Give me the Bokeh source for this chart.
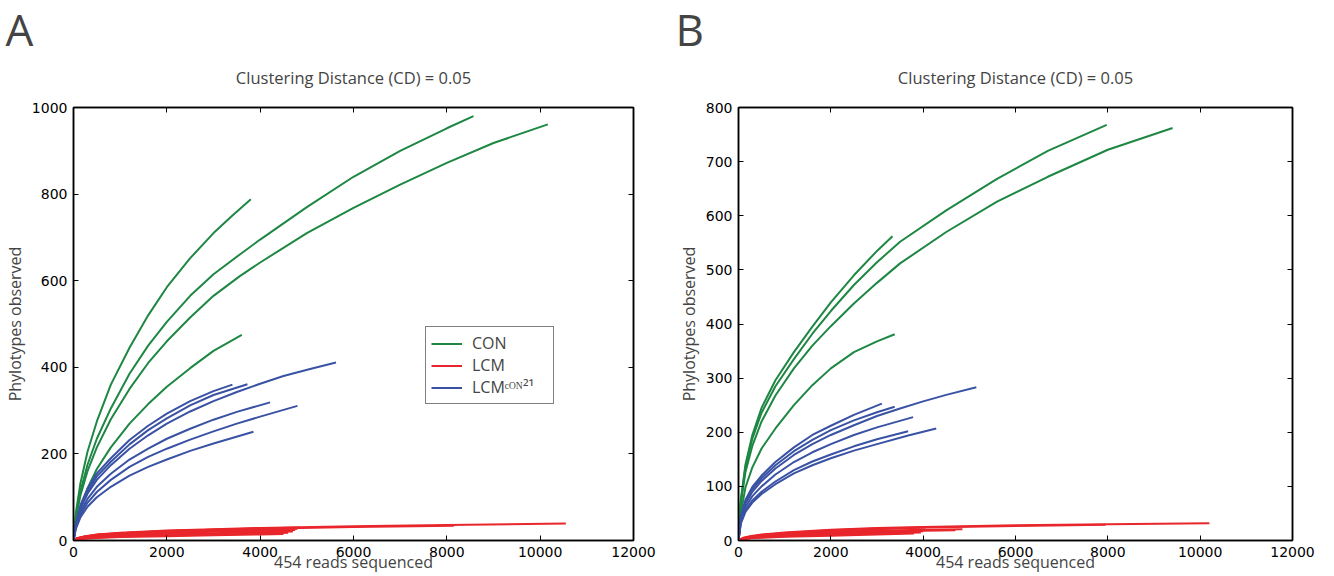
from bokeh.plotting import figure
from bokeh.models import Range1d, LinearAxis, FixedTicker, Legend, LegendItem, Title
from bokeh.layouts import row
from bokeh.embed import file_html
from bokeh.resources import INLINE

# ---------------- Panel A data ----------------
A_CON_X = [
    [0, 50, 150, 300, 500, 800, 1200, 1600, 2000, 2500, 3000, 3400, 3800],
    [0, 50, 150, 300, 500, 800, 1200, 1600, 2000, 2500, 3000, 3557, 4000, 5000, 6000, 7000, 8000, 8571],
    [0, 50, 150, 300, 500, 800, 1200, 1600, 2000, 2500, 3000, 3557, 4000, 5000, 6000, 7000, 8000, 9000, 10164],
    [0, 50, 150, 300, 500, 800, 1200, 1600, 2000, 2500, 3000, 3606],
]
A_CON_Y = [
    [0, 64, 133, 205, 275, 360, 445, 520, 585, 652, 710, 750, 788],
    [0, 55, 115, 175, 235, 305, 385, 450, 505, 565, 615, 660, 695, 770, 840, 900, 952, 980],
    [0, 50, 105, 160, 215, 280, 350, 410, 460, 515, 565, 610, 642, 710, 768, 822, 872, 918, 961],
    [0, 35, 75, 120, 165, 215, 270, 315, 355, 398, 438, 475],
]
A_LCM_X = [
    [0, 30, 100, 250, 500, 1000, 2000, 3000, 4000, 6000, 8000, 10550],
    [0, 30, 100, 250, 500, 1000, 2000, 3000, 4000, 6000, 8150],
    [0, 30, 100, 250, 500, 1000, 2000, 3000, 4000, 4850],
    [0, 30, 100, 250, 500, 1000, 2000, 3000, 4000, 4800],
    [0, 30, 100, 250, 500, 1000, 2000, 3000, 4000, 4750],
    [0, 30, 100, 250, 500, 1000, 2000, 3000, 4000, 4700],
    [0, 30, 100, 250, 500, 1000, 2000, 3000, 4000, 4600],
    [0, 30, 100, 250, 500, 1000, 2000, 3000, 4000, 4500],
]
A_LCM_Y = [
    [0, 3, 6, 10, 14, 18, 23, 26, 29, 33, 36, 39],
    [0, 3, 6, 9, 13, 17, 22, 25, 27, 31, 34],
    [0, 3, 6, 9, 13, 17, 22, 25, 28, 30],
    [0, 3, 5, 8, 11, 15, 19, 22, 25, 27],
    [0, 2, 4, 7, 10, 13, 17, 20, 22, 24],
    [0, 2, 4, 6, 8, 11, 15, 17, 19, 21],
    [0, 2, 3, 5, 7, 9, 12, 14, 16, 18],
    [0, 1, 3, 4, 6, 8, 10, 12, 14, 15],
]
A_L21_X = [
    [0, 50, 150, 300, 500, 800, 1200, 1600, 2000, 2500, 3000, 3406],
    [0, 50, 150, 300, 500, 800, 1200, 1600, 2000, 2500, 3000, 3727],
    [0, 50, 150, 300, 500, 800, 1200, 1600, 2000, 2500, 3000, 3500, 4000, 4500, 5070, 5625],
    [0, 50, 150, 300, 500, 800, 1200, 1600, 2000, 2500, 3000, 3500, 4213],
    [0, 50, 150, 300, 500, 800, 1200, 1600, 2000, 2500, 3000, 3500, 4000, 4799],
    [0, 50, 150, 300, 500, 800, 1200, 1600, 2000, 2500, 3000, 3856],
]
A_L21_Y = [
    [0, 40, 82, 120, 155, 190, 232, 265, 293, 322, 345, 360],
    [0, 38, 78, 114, 148, 182, 222, 255, 282, 312, 336, 361],
    [0, 36, 74, 108, 140, 174, 212, 243, 270, 298, 322, 343, 362, 380, 396, 411],
    [0, 33, 66, 96, 124, 154, 187, 212, 235, 258, 279, 297, 319],
    [0, 30, 60, 87, 112, 140, 170, 193, 212, 233, 252, 270, 286, 311],
    [0, 27, 54, 78, 100, 124, 150, 170, 187, 207, 224, 251],
]

# ---------------- Panel B data ----------------
B_CON_X = [
    [0, 50, 150, 300, 500, 800, 1200, 1600, 2000, 2500, 3000, 3335],
    [0, 50, 150, 300, 500, 800, 1200, 1600, 2000, 2500, 3000, 3500, 4500, 5600, 6700, 7976],
    [0, 50, 150, 300, 500, 800, 1200, 1600, 2000, 2500, 3000, 3500, 4500, 5600, 6700, 8000, 9403],
    [0, 50, 150, 300, 500, 800, 1200, 1600, 2000, 2500, 3000, 3384],
]
B_CON_Y = [
    [0, 75, 140, 195, 245, 296, 348, 395, 440, 490, 535, 562],
    [0, 72, 135, 188, 236, 285, 335, 382, 424, 472, 514, 552, 610, 668, 720, 768],
    [0, 68, 126, 175, 220, 268, 318, 360, 396, 438, 476, 512, 570, 626, 672, 722, 762],
    [0, 50, 98, 135, 170, 207, 250, 287, 318, 348, 368, 381],
]
B_LCM_X = [
    [0, 30, 100, 250, 500, 1000, 2000, 3000, 4000, 6000, 8000, 10200],
    [0, 30, 100, 250, 500, 1000, 2000, 3000, 4000, 6000, 7950],
    [0, 30, 100, 250, 500, 1000, 2000, 3000, 4000, 4850],
    [0, 30, 100, 250, 500, 1000, 2000, 3000, 4000, 4700],
    [0, 30, 100, 250, 500, 1000, 2000, 3000, 4050],
    [0, 30, 100, 250, 500, 1000, 2000, 3000, 4000],
    [0, 30, 100, 250, 500, 1000, 2000, 3000, 3950],
    [0, 30, 100, 250, 500, 1000, 2000, 3000, 3800],
]
B_LCM_Y = [
    [0, 2, 5, 8, 11, 15, 20, 23, 25, 28, 30, 32],
    [0, 2, 4, 7, 10, 14, 19, 22, 24, 27, 29],
    [0, 2, 4, 6, 9, 12, 16, 18, 20, 21],
    [0, 2, 3, 6, 8, 11, 14, 16, 18, 19],
    [0, 2, 4, 7, 10, 13, 18, 21, 24],
    [0, 1, 3, 5, 7, 10, 13, 15, 17],
    [0, 1, 3, 4, 6, 8, 11, 13, 15],
    [0, 1, 2, 4, 5, 7, 9, 11, 13],
]
B_L21_X = [
    [0, 50, 150, 300, 500, 800, 1200, 1600, 2000, 2500, 3105],
    [0, 50, 150, 300, 500, 800, 1200, 1600, 2000, 2500, 3000, 3383],
    [0, 50, 150, 300, 500, 800, 1200, 1600, 2000, 2500, 3000, 3500, 4000, 4500, 5152],
    [0, 50, 150, 300, 500, 800, 1200, 1600, 2000, 2500, 3000, 3782],
    [0, 50, 150, 300, 500, 800, 1200, 1600, 2000, 2500, 3000, 3675],
    [0, 50, 150, 300, 500, 800, 1200, 1600, 2000, 2500, 3000, 3675, 4283],
]
B_L21_Y = [
    [0, 45, 75, 99, 120, 145, 172, 195, 212, 232, 253],
    [0, 42, 72, 95, 115, 139, 165, 186, 204, 222, 237, 247],
    [0, 40, 68, 90, 110, 133, 158, 178, 195, 213, 230, 244, 257, 269, 283],
    [0, 36, 62, 82, 100, 122, 145, 163, 178, 195, 209, 228],
    [0, 33, 56, 74, 90, 109, 130, 146, 159, 174, 187, 202],
    [0, 31, 53, 70, 86, 104, 124, 139, 152, 166, 178, 194, 207],
]

X_TICKS = [0, 2000, 4000, 6000, 8000, 10000, 12000]
A_Y_TICKS = [0, 200, 400, 600, 800, 1000]
B_Y_TICKS = [0, 100, 200, 300, 400, 500, 600, 700, 800]
TITLE = "Clustering Distance (CD) = 0.05"
X_LABEL = "454 reads sequenced"
Y_LABEL = "Phylotypes observed"
LEGEND_LABELS = ["CON", "LCM", "LCM\u1d9c\u1d3c\u1d3a\u00b2\u00b9"]

GREEN = "#1e8743"
RED = "#e8262b"
BLUE = "#3a52a4"
TEXT_FONT = "Open Sans"
TICK_FONT = "DejaVu Sans"


def style_axis(ax, ticks, show_labels, standoff=4):
    ax.ticker = FixedTicker(ticks=ticks)
    ax.major_tick_in = 5
    ax.major_tick_out = 0
    ax.minor_tick_in = 0
    ax.minor_tick_out = 0
    ax.axis_line_color = "black"
    ax.axis_line_width = 1.5
    ax.major_tick_line_color = "black"
    ax.major_tick_line_width = 1
    if show_labels:
        ax.major_label_text_font = TICK_FONT
        ax.major_label_text_font_size = "14px"
        ax.major_label_text_color = "black"
        ax.major_label_standoff = standoff
    else:
        ax.major_label_text_font_size = "0px"
        ax.major_label_standoff = 0


def make_panel(con_x, con_y, lcm_x, lcm_y, l21_x, l21_y, ymax, yticks,
               left, right, letter, letter_off, legend):
    p = figure(width=667, height=576, x_range=Range1d(0, 12000), y_range=Range1d(0, ymax),
               output_backend="svg", toolbar_location=None,
               min_border_left=left, min_border_right=right,
               min_border_top=107, min_border_bottom=36)
    p.xgrid.visible = False
    p.ygrid.visible = False
    p.outline_line_color = "black"
    p.outline_line_width = 1.5
    p.background_fill_color = "white"
    p.border_fill_color = "white"

    r_con = p.multi_line(con_x, con_y, line_color=GREEN, line_width=2)
    r_lcm = p.multi_line(lcm_x, lcm_y, line_color=RED, line_width=2)
    r_l21 = p.multi_line(l21_x, l21_y, line_color=BLUE, line_width=2)

    style_axis(p.xaxis[0], X_TICKS, True, standoff=6)
    p.xaxis[0].axis_label = X_LABEL
    p.xaxis[0].axis_label_text_font = TEXT_FONT
    p.xaxis[0].axis_label_text_font_size = "16px"
    p.xaxis[0].axis_label_text_font_style = "normal"
    p.xaxis[0].axis_label_standoff = -9

    style_axis(p.yaxis[0], yticks, True, standoff=6)
    p.yaxis[0].axis_label = Y_LABEL
    p.yaxis[0].axis_label_text_font = TEXT_FONT
    p.yaxis[0].axis_label_text_font_size = "16px"
    p.yaxis[0].axis_label_text_font_style = "normal"
    p.yaxis[0].axis_label_standoff = 3

    top = LinearAxis()
    style_axis(top, X_TICKS, False)
    p.add_layout(top, "above")
    rgt = LinearAxis()
    style_axis(rgt, yticks, False)
    p.add_layout(rgt, "right")

    p.add_layout(Title(text=TITLE, align="center", vertical_align="top", standoff=34,
                       text_font=TEXT_FONT, text_font_size="16.5px",
                       text_font_style="normal"), "above")
    p.add_layout(Title(text=letter, align="left", vertical_align="bottom", offset=letter_off,
                       standoff=-20, text_font=TEXT_FONT, text_font_size="44px",
                       text_font_style="normal"), "above")

    if legend:
        lg = Legend(items=[LegendItem(label=LEGEND_LABELS[0], renderers=[r_con]),
                           LegendItem(label=LEGEND_LABELS[1], renderers=[r_lcm]),
                           LegendItem(label=LEGEND_LABELS[2], renderers=[r_l21])],
                    location=(352, 136))
        lg.border_line_color = "black"
        lg.border_line_width = 1.5
        lg.background_fill_alpha = 1
        lg.padding = 5
        lg.spacing = 0
        lg.margin = 0
        lg.label_height = 21
        lg.glyph_height = 21
        lg.glyph_width = 31
        lg.label_width = 76
        lg.label_standoff = 10
        lg.label_text_font = TEXT_FONT
        lg.label_text_font_size = "16px"
        p.add_layout(lg, "center")
    return p


pA = make_panel(A_CON_X, A_CON_Y, A_LCM_X, A_LCM_Y, A_L21_X, A_L21_Y, 1000, A_Y_TICKS,
                73, 34, "A", -68, True)
pB = make_panel(B_CON_X, B_CON_Y, B_LCM_X, B_LCM_Y, B_L21_X, B_L21_Y, 800, B_Y_TICKS,
                71, 42, "B", -63, False)

layout = row(pA, pB)
open("out.html", "w").write(file_html(layout, INLINE))
